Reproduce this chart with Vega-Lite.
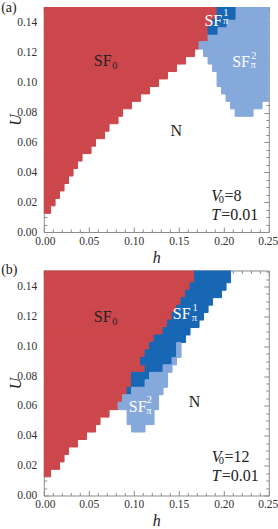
{
  "$schema": "https://vega.github.io/schema/vega-lite/v6.json",
  "background": "white",
  "padding": {"left": 0.8, "top": 0, "right": 0, "bottom": 0},
  "spacing": 38.5,
  "bounds": "flush",
  "config": {
    "view": {"stroke": null},
    "axis": {
      "domainColor": "#8c8c8c", "tickColor": "#8c8c8c", "tickWidth": 1,
      "labelFont": "Liberation Serif", "labelFontSize": 11.5, "labelColor": "#333333",
      "titleFont": "Liberation Serif", "titleFontSize": 16, "titleFontWeight": "normal",
      "titleFontStyle": "italic", "titleColor": "#222222",
      "grid": false, "zindex": 1, "labelFlush": false, "labelOverlap": false
    }
  },
  "datasets": {
    "a": [
      {"ph":"SF0","x0":0,"x1":0.0075,"y0":0.0125,"y1":0.0175},
      {"ph":"SF0","x0":0,"x1":0.0125,"y0":0.0175,"y1":0.0225},
      {"ph":"SF0","x0":0,"x1":0.0175,"y0":0.0225,"y1":0.0275},
      {"ph":"SF0","x0":0,"x1":0.0225,"y0":0.0275,"y1":0.0325},
      {"ph":"SF0","x0":0,"x1":0.0275,"y0":0.0325,"y1":0.0375},
      {"ph":"SF0","x0":0,"x1":0.0325,"y0":0.0375,"y1":0.0425},
      {"ph":"SF0","x0":0,"x1":0.0375,"y0":0.0425,"y1":0.0475},
      {"ph":"SF0","x0":0,"x1":0.0425,"y0":0.0475,"y1":0.0525},
      {"ph":"SF0","x0":0,"x1":0.0525,"y0":0.0525,"y1":0.0575},
      {"ph":"SF0","x0":0,"x1":0.0575,"y0":0.0575,"y1":0.0625},
      {"ph":"SF0","x0":0,"x1":0.0675,"y0":0.0625,"y1":0.0675},
      {"ph":"SF0","x0":0,"x1":0.0725,"y0":0.0675,"y1":0.0725},
      {"ph":"SF0","x0":0,"x1":0.0825,"y0":0.0725,"y1":0.0775},
      {"ph":"SF0","x0":0,"x1":0.0875,"y0":0.0775,"y1":0.0825},
      {"ph":"SF0","x0":0,"x1":0.0975,"y0":0.0825,"y1":0.0875},
      {"ph":"SF0","x0":0,"x1":0.1075,"y0":0.0875,"y1":0.0925},
      {"ph":"SF0","x0":0,"x1":0.1175,"y0":0.0925,"y1":0.0975},
      {"ph":"SF0","x0":0,"x1":0.1275,"y0":0.0975,"y1":0.1025},
      {"ph":"SF0","x0":0,"x1":0.1375,"y0":0.1025,"y1":0.1075},
      {"ph":"SF0","x0":0,"x1":0.1475,"y0":0.1075,"y1":0.1125},
      {"ph":"SF0","x0":0,"x1":0.1575,"y0":0.1125,"y1":0.1175},
      {"ph":"SF0","x0":0,"x1":0.1675,"y0":0.1175,"y1":0.1225},
      {"ph":"SF0","x0":0,"x1":0.1725,"y0":0.1225,"y1":0.1275},
      {"ph":"SF0","x0":0,"x1":0.1825,"y0":0.1275,"y1":0.1375},
      {"ph":"SF0","x0":0,"x1":0.1875,"y0":0.1375,"y1":0.1425},
      {"ph":"SF0","x0":0,"x1":0.1925,"y0":0.1425,"y1":0.1525},
      {"ph":"SF2","x0":0.2125,"x1":0.2325,"y0":0.0775,"y1":0.0825},
      {"ph":"SF2","x0":0.2075,"x1":0.2425,"y0":0.0825,"y1":0.0875},
      {"ph":"SF2","x0":0.2025,"x1":0.25,"y0":0.0875,"y1":0.0925},
      {"ph":"SF2","x0":0.1975,"x1":0.25,"y0":0.0925,"y1":0.0975},
      {"ph":"SF2","x0":0.1925,"x1":0.25,"y0":0.0975,"y1":0.1075},
      {"ph":"SF2","x0":0.1875,"x1":0.25,"y0":0.1075,"y1":0.1125},
      {"ph":"SF2","x0":0.1825,"x1":0.25,"y0":0.1125,"y1":0.1175},
      {"ph":"SF2","x0":0.1775,"x1":0.25,"y0":0.1175,"y1":0.1225},
      {"ph":"SF2","x0":0.1725,"x1":0.25,"y0":0.1225,"y1":0.1275},
      {"ph":"SF2","x0":0.1825,"x1":0.25,"y0":0.1275,"y1":0.1325},
      {"ph":"SF2","x0":0.1925,"x1":0.25,"y0":0.1325,"y1":0.1375},
      {"ph":"SF2","x0":0.2025,"x1":0.25,"y0":0.1375,"y1":0.1425},
      {"ph":"SF2","x0":0.2125,"x1":0.25,"y0":0.1425,"y1":0.1525},
      {"ph":"SF1","x0":0.1825,"x1":0.1925,"y0":0.1325,"y1":0.1375},
      {"ph":"SF1","x0":0.1875,"x1":0.2025,"y0":0.1375,"y1":0.1425},
      {"ph":"SF1","x0":0.1925,"x1":0.2125,"y0":0.1425,"y1":0.1525}
    ],
    "b": [
      {"ph":"SF0","x0":0,"x1":0.0075,"y0":0.0125,"y1":0.0175},
      {"ph":"SF0","x0":0,"x1":0.0175,"y0":0.0175,"y1":0.0225},
      {"ph":"SF0","x0":0,"x1":0.0225,"y0":0.0225,"y1":0.0275},
      {"ph":"SF0","x0":0,"x1":0.0275,"y0":0.0275,"y1":0.0325},
      {"ph":"SF0","x0":0,"x1":0.0375,"y0":0.0325,"y1":0.0375},
      {"ph":"SF0","x0":0,"x1":0.0475,"y0":0.0375,"y1":0.0425},
      {"ph":"SF0","x0":0,"x1":0.0575,"y0":0.0425,"y1":0.0475},
      {"ph":"SF0","x0":0,"x1":0.0625,"y0":0.0475,"y1":0.0525},
      {"ph":"SF0","x0":0,"x1":0.0725,"y0":0.0525,"y1":0.0575},
      {"ph":"SF0","x0":0,"x1":0.0825,"y0":0.0575,"y1":0.0625},
      {"ph":"SF0","x0":0,"x1":0.0875,"y0":0.0625,"y1":0.0675},
      {"ph":"SF0","x0":0,"x1":0.0925,"y0":0.0675,"y1":0.0725},
      {"ph":"SF0","x0":0,"x1":0.0975,"y0":0.0725,"y1":0.0825},
      {"ph":"SF0","x0":0,"x1":0.1125,"y0":0.0825,"y1":0.0875},
      {"ph":"SF0","x0":0,"x1":0.1075,"y0":0.0875,"y1":0.0925},
      {"ph":"SF0","x0":0,"x1":0.1125,"y0":0.0925,"y1":0.0975},
      {"ph":"SF0","x0":0,"x1":0.1175,"y0":0.0975,"y1":0.1025},
      {"ph":"SF0","x0":0,"x1":0.1225,"y0":0.1025,"y1":0.1075},
      {"ph":"SF0","x0":0,"x1":0.1325,"y0":0.1075,"y1":0.1125},
      {"ph":"SF0","x0":0,"x1":0.1375,"y0":0.1125,"y1":0.1175},
      {"ph":"SF0","x0":0,"x1":0.1425,"y0":0.1175,"y1":0.1225},
      {"ph":"SF0","x0":0,"x1":0.1475,"y0":0.1225,"y1":0.1275},
      {"ph":"SF0","x0":0,"x1":0.1525,"y0":0.1275,"y1":0.1325},
      {"ph":"SF0","x0":0,"x1":0.1575,"y0":0.1325,"y1":0.1375},
      {"ph":"SF0","x0":0,"x1":0.1625,"y0":0.1375,"y1":0.1425},
      {"ph":"SF0","x0":0,"x1":0.1675,"y0":0.1425,"y1":0.1525},
      {"ph":"SF1","x0":0.0925,"x1":0.0975,"y0":0.0675,"y1":0.0725},
      {"ph":"SF1","x0":0.0975,"x1":0.1125,"y0":0.0725,"y1":0.0775},
      {"ph":"SF1","x0":0.0975,"x1":0.1175,"y0":0.0775,"y1":0.0825},
      {"ph":"SF1","x0":0.1125,"x1":0.1325,"y0":0.0825,"y1":0.0875},
      {"ph":"SF1","x0":0.1075,"x1":0.1425,"y0":0.0875,"y1":0.0925},
      {"ph":"SF1","x0":0.1125,"x1":0.1475,"y0":0.0925,"y1":0.0975},
      {"ph":"SF1","x0":0.1175,"x1":0.1475,"y0":0.0975,"y1":0.1025},
      {"ph":"SF1","x0":0.1225,"x1":0.1575,"y0":0.1025,"y1":0.1075},
      {"ph":"SF1","x0":0.1325,"x1":0.1625,"y0":0.1075,"y1":0.1125},
      {"ph":"SF1","x0":0.1375,"x1":0.1725,"y0":0.1125,"y1":0.1175},
      {"ph":"SF1","x0":0.1425,"x1":0.1775,"y0":0.1175,"y1":0.1225},
      {"ph":"SF1","x0":0.1475,"x1":0.1825,"y0":0.1225,"y1":0.1275},
      {"ph":"SF1","x0":0.1525,"x1":0.1875,"y0":0.1275,"y1":0.1325},
      {"ph":"SF1","x0":0.1575,"x1":0.1975,"y0":0.1325,"y1":0.1375},
      {"ph":"SF1","x0":0.1625,"x1":0.2025,"y0":0.1375,"y1":0.1425},
      {"ph":"SF1","x0":0.1675,"x1":0.2075,"y0":0.1425,"y1":0.1525},
      {"ph":"SF2","x0":0.0975,"x1":0.1125,"y0":0.0425,"y1":0.0475},
      {"ph":"SF2","x0":0.0925,"x1":0.1225,"y0":0.0475,"y1":0.0575},
      {"ph":"SF2","x0":0.0825,"x1":0.1275,"y0":0.0575,"y1":0.0625},
      {"ph":"SF2","x0":0.0875,"x1":0.1275,"y0":0.0625,"y1":0.0675},
      {"ph":"SF2","x0":0.0975,"x1":0.1325,"y0":0.0675,"y1":0.0725},
      {"ph":"SF2","x0":0.1125,"x1":0.1375,"y0":0.0725,"y1":0.0775},
      {"ph":"SF2","x0":0.1175,"x1":0.1375,"y0":0.0775,"y1":0.0825},
      {"ph":"SF2","x0":0.1325,"x1":0.1425,"y0":0.0825,"y1":0.0875},
      {"ph":"SF2","x0":0.1425,"x1":0.1475,"y0":0.0875,"y1":0.0925},
      {"ph":"SF2","x0":0.1475,"x1":0.1525,"y0":0.0925,"y1":0.1025}
    ],
    "la": [
      {"h":-0.0474,"U":0.1474,"t":"(a)","c":"#222222","f":"p"},
      {"h":0.0555,"U":0.111,"t":"SF","c":"#222222","f":"r"},
      {"h":0.076,"U":0.1093,"t":"0","c":"#222222","f":"s"},
      {"h":0.1407,"U":0.064,"t":"N","c":"#222222","f":"r"},
      {"h":0.1785,"U":0.1382,"t":"SF","c":"#ffffff","f":"r"},
      {"h":0.1995,"U":0.1449,"t":"1","c":"#ffffff","f":"s"},
      {"h":0.199,"U":0.1393,"t":"π","c":"#ffffff","f":"s"},
      {"h":0.2093,"U":0.1103,"t":"SF","c":"#ffffff","f":"r"},
      {"h":0.2304,"U":0.1159,"t":"2","c":"#ffffff","f":"s"},
      {"h":0.2296,"U":0.1098,"t":"π","c":"#ffffff","f":"s"},
      {"h":0.186,"U":0.0207,"t":"V","c":"#222222","f":"i"},
      {"h":0.1944,"U":0.0194,"t":"0","c":"#222222","f":"s"},
      {"h":0.2007,"U":0.0207,"t":"=8","c":"#222222","f":"r"},
      {"h":0.186,"U":0.0078,"t":"T","c":"#222222","f":"i"},
      {"h":0.1971,"U":0.0078,"t":"=0.01","c":"#222222","f":"r"}
    ],
    "lb": [
      {"h":-0.0474,"U":0.1482,"t":"(b)","c":"#222222","f":"p"},
      {"h":0.0555,"U":0.1161,"t":"SF","c":"#222222","f":"r"},
      {"h":0.076,"U":0.1143,"t":"0","c":"#222222","f":"s"},
      {"h":0.1433,"U":0.1183,"t":"SF","c":"#ffffff","f":"r"},
      {"h":0.1652,"U":0.1239,"t":"1","c":"#ffffff","f":"s"},
      {"h":0.1645,"U":0.1172,"t":"π","c":"#ffffff","f":"s"},
      {"h":0.0944,"U":0.0558,"t":"SF","c":"#ffffff","f":"r"},
      {"h":0.1144,"U":0.0618,"t":"2","c":"#ffffff","f":"s"},
      {"h":0.1137,"U":0.0547,"t":"π","c":"#ffffff","f":"s"},
      {"h":0.1611,"U":0.0592,"t":"N","c":"#222222","f":"r"},
      {"h":0.1866,"U":0.0223,"t":"V","c":"#222222","f":"i"},
      {"h":0.1944,"U":0.0212,"t":"0","c":"#222222","f":"s"},
      {"h":0.2007,"U":0.0223,"t":"=12","c":"#222222","f":"r"},
      {"h":0.1866,"U":0.0096,"t":"T","c":"#222222","f":"i"},
      {"h":0.1978,"U":0.0096,"t":"=0.01","c":"#222222","f":"r"}
    ]
  },
  "vconcat": [
    {
      "width": 225, "height": 225,
      "layer": [
        {
          "data": {"name": "a"},
          "mark": {"type": "rect", "clip": true, "strokeWidth": 1},
          "encoding": {
            "x": {"field": "x0", "type": "quantitative",
              "scale": {"domain": [0, 0.25], "nice": false, "zero": false},
              "axis": {"orient": "bottom", "title": "h", "titlePadding": 1,
                "values": [0,0.01,0.02,0.03,0.04,0.05,0.06,0.07,0.08,0.09,0.1,0.11,0.12,0.13,0.14,0.15,0.16,0.17,0.18,0.19,0.2,0.21,0.22,0.23,0.24,0.25],
                "labelExpr": "abs(datum.value*20-round(datum.value*20))<0.001 ? format(datum.value,'.2f') : ''",
                "tickSize": {"condition": {"test": "abs(datum.value*20-round(datum.value*20))<0.001", "value": -5}, "value": -3},
                "labelFlush": true, "labelFlushOffset": 9,
                "labelPadding": 8}},
            "x2": {"field": "x1"},
            "y": {"field": "y0", "type": "quantitative",
              "scale": {"domain": [0, 0.1507], "nice": false, "zero": false},
              "axis": {"orient": "left", "title": "U", "titlePadding": -7,
                "values": [0,0.005,0.01,0.015,0.02,0.025,0.03,0.035,0.04,0.045,0.05,0.055,0.06,0.065,0.07,0.075,0.08,0.085,0.09,0.095,0.1,0.105,0.11,0.115,0.12,0.125,0.13,0.135,0.14,0.145,0.15],
                "labelExpr": "abs(datum.value*50-round(datum.value*50))<0.001 ? format(datum.value,'.2f') : ''",
                "tickSize": {"condition": {"test": "abs(datum.value*50-round(datum.value*50))<0.001", "value": -5}, "value": -3},
                "labelPadding": 12}},
            "y2": {"field": "y1"},
            "color": {"field": "ph", "type": "nominal", "scale": {"domain": ["SF0","SF1","SF2"], "range": ["#cc474b","#1767b4","#86a9db"]}, "legend": null},
            "stroke": {"field": "ph", "type": "nominal", "scale": {"domain": ["SF0","SF1","SF2"], "range": ["#cc474b","#1767b4","#86a9db"]}, "legend": null}
          }
        },
        {
          "data": {"name": "la"},
          "transform": [{"filter": "datum.f == 'r'"}],
          "mark": {"type": "text", "font": "Liberation Serif", "fontSize": 16, "align": "left", "baseline": "alphabetic"},
          "encoding": {
            "x": {"field": "h", "type": "quantitative",
              "axis": {"orient": "top", "title": null, "labels": false,
                "values": [0,0.01,0.02,0.03,0.04,0.05,0.06,0.07,0.08,0.09,0.1,0.11,0.12,0.13,0.14,0.15,0.16,0.17,0.18,0.19,0.2,0.21,0.22,0.23,0.24,0.25],
                "tickSize": {"condition": {"test": "abs(datum.value*20-round(datum.value*20))<0.001", "value": -5}, "value": -3}}},
            "y": {"field": "U", "type": "quantitative",
              "axis": {"orient": "right", "title": null, "labels": false,
                "values": [0,0.005,0.01,0.015,0.02,0.025,0.03,0.035,0.04,0.045,0.05,0.055,0.06,0.065,0.07,0.075,0.08,0.085,0.09,0.095,0.1,0.105,0.11,0.115,0.12,0.125,0.13,0.135,0.14,0.145,0.15],
                "tickSize": {"condition": {"test": "abs(datum.value*50-round(datum.value*50))<0.001", "value": -5}, "value": -3}}},
            "text": {"field": "t"},
            "color": {"field": "c", "type": "nominal", "scale": null}
          }
        },
        {
          "data": {"name": "la"},
          "transform": [{"filter": "datum.f == 'i'"}],
          "mark": {"type": "text", "font": "Liberation Serif", "fontSize": 16, "fontStyle": "italic", "align": "left", "baseline": "alphabetic"},
          "encoding": {
            "x": {"field": "h", "type": "quantitative", "axis": null},
            "y": {"field": "U", "type": "quantitative", "axis": null},
            "text": {"field": "t"},
            "color": {"field": "c", "type": "nominal", "scale": null}
          }
        },
        {
          "data": {"name": "la"},
          "transform": [{"filter": "datum.f == 's'"}],
          "mark": {"type": "text", "font": "Liberation Serif", "fontSize": 10.5, "align": "left", "baseline": "alphabetic"},
          "encoding": {
            "x": {"field": "h", "type": "quantitative", "axis": null},
            "y": {"field": "U", "type": "quantitative", "axis": null},
            "text": {"field": "t"},
            "color": {"field": "c", "type": "nominal", "scale": null}
          }
        },
        {
          "data": {"name": "la"},
          "transform": [{"filter": "datum.f == 'p'"}],
          "mark": {"type": "text", "font": "Liberation Serif", "fontSize": 14, "align": "left", "baseline": "alphabetic"},
          "encoding": {
            "x": {"field": "h", "type": "quantitative", "axis": null},
            "y": {"field": "U", "type": "quantitative", "axis": null},
            "text": {"field": "t"},
            "color": {"field": "c", "type": "nominal", "scale": null}
          }
        }
      ],
      "resolve": {"axis": {"x": "independent", "y": "independent"}}
    },
    {
      "width": 225, "height": 225,
      "layer": [
        {
          "data": {"name": "b"},
          "mark": {"type": "rect", "clip": true, "strokeWidth": 1},
          "encoding": {
            "x": {"field": "x0", "type": "quantitative",
              "scale": {"domain": [0, 0.25], "nice": false, "zero": false},
              "axis": {"orient": "bottom", "title": "h", "titlePadding": 1,
                "values": [0,0.01,0.02,0.03,0.04,0.05,0.06,0.07,0.08,0.09,0.1,0.11,0.12,0.13,0.14,0.15,0.16,0.17,0.18,0.19,0.2,0.21,0.22,0.23,0.24,0.25],
                "labelExpr": "abs(datum.value*20-round(datum.value*20))<0.001 ? format(datum.value,'.2f') : ''",
                "tickSize": {"condition": {"test": "abs(datum.value*20-round(datum.value*20))<0.001", "value": -5}, "value": -3},
                "labelFlush": true, "labelFlushOffset": 9,
                "labelPadding": 8}},
            "x2": {"field": "x1"},
            "y": {"field": "y0", "type": "quantitative",
              "scale": {"domain": [0, 0.1507], "nice": false, "zero": false},
              "axis": {"orient": "left", "title": "U", "titlePadding": -7,
                "values": [0,0.005,0.01,0.015,0.02,0.025,0.03,0.035,0.04,0.045,0.05,0.055,0.06,0.065,0.07,0.075,0.08,0.085,0.09,0.095,0.1,0.105,0.11,0.115,0.12,0.125,0.13,0.135,0.14,0.145,0.15],
                "labelExpr": "abs(datum.value*50-round(datum.value*50))<0.001 ? format(datum.value,'.2f') : ''",
                "tickSize": {"condition": {"test": "abs(datum.value*50-round(datum.value*50))<0.001", "value": -5}, "value": -3},
                "labelPadding": 12}},
            "y2": {"field": "y1"},
            "color": {"field": "ph", "type": "nominal", "scale": {"domain": ["SF0","SF1","SF2"], "range": ["#cc474b","#1767b4","#86a9db"]}, "legend": null},
            "stroke": {"field": "ph", "type": "nominal", "scale": {"domain": ["SF0","SF1","SF2"], "range": ["#cc474b","#1767b4","#86a9db"]}, "legend": null}
          }
        },
        {
          "data": {"name": "lb"},
          "transform": [{"filter": "datum.f == 'r'"}],
          "mark": {"type": "text", "font": "Liberation Serif", "fontSize": 16, "align": "left", "baseline": "alphabetic"},
          "encoding": {
            "x": {"field": "h", "type": "quantitative",
              "axis": {"orient": "top", "title": null, "labels": false,
                "values": [0,0.01,0.02,0.03,0.04,0.05,0.06,0.07,0.08,0.09,0.1,0.11,0.12,0.13,0.14,0.15,0.16,0.17,0.18,0.19,0.2,0.21,0.22,0.23,0.24,0.25],
                "tickSize": {"condition": {"test": "abs(datum.value*20-round(datum.value*20))<0.001", "value": -5}, "value": -3}}},
            "y": {"field": "U", "type": "quantitative",
              "axis": {"orient": "right", "title": null, "labels": false,
                "values": [0,0.005,0.01,0.015,0.02,0.025,0.03,0.035,0.04,0.045,0.05,0.055,0.06,0.065,0.07,0.075,0.08,0.085,0.09,0.095,0.1,0.105,0.11,0.115,0.12,0.125,0.13,0.135,0.14,0.145,0.15],
                "tickSize": {"condition": {"test": "abs(datum.value*50-round(datum.value*50))<0.001", "value": -5}, "value": -3}}},
            "text": {"field": "t"},
            "color": {"field": "c", "type": "nominal", "scale": null}
          }
        },
        {
          "data": {"name": "lb"},
          "transform": [{"filter": "datum.f == 'i'"}],
          "mark": {"type": "text", "font": "Liberation Serif", "fontSize": 16, "fontStyle": "italic", "align": "left", "baseline": "alphabetic"},
          "encoding": {
            "x": {"field": "h", "type": "quantitative", "axis": null},
            "y": {"field": "U", "type": "quantitative", "axis": null},
            "text": {"field": "t"},
            "color": {"field": "c", "type": "nominal", "scale": null}
          }
        },
        {
          "data": {"name": "lb"},
          "transform": [{"filter": "datum.f == 's'"}],
          "mark": {"type": "text", "font": "Liberation Serif", "fontSize": 10.5, "align": "left", "baseline": "alphabetic"},
          "encoding": {
            "x": {"field": "h", "type": "quantitative", "axis": null},
            "y": {"field": "U", "type": "quantitative", "axis": null},
            "text": {"field": "t"},
            "color": {"field": "c", "type": "nominal", "scale": null}
          }
        },
        {
          "data": {"name": "lb"},
          "transform": [{"filter": "datum.f == 'p'"}],
          "mark": {"type": "text", "font": "Liberation Serif", "fontSize": 14, "align": "left", "baseline": "alphabetic"},
          "encoding": {
            "x": {"field": "h", "type": "quantitative", "axis": null},
            "y": {"field": "U", "type": "quantitative", "axis": null},
            "text": {"field": "t"},
            "color": {"field": "c", "type": "nominal", "scale": null}
          }
        }
      ],
      "resolve": {"axis": {"x": "independent", "y": "independent"}}
    }
  ]
}
